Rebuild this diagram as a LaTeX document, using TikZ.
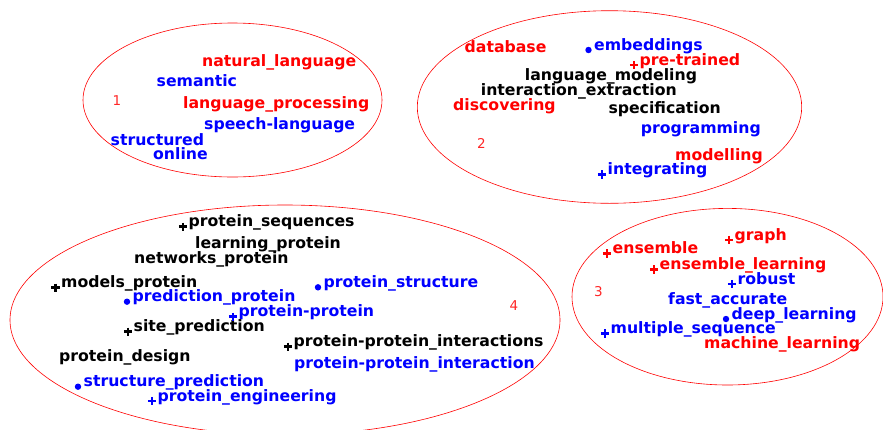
\documentclass[tikz,border=0pt]{standalone}
\usepackage{fontspec}
\setmainfont{DejaVu Sans}
\definecolor{termred}{rgb}{1,0,0}
\definecolor{termblue}{rgb}{0,0,1}

\begin{document}
\begin{tikzpicture}[x=1pt,y=-1pt,
  term/.style={anchor=base west, inner sep=0pt, font=\fontsize{15.7}{18}\selectfont\bfseries},
  cluster/.style={draw=termred, line width=0.6pt},
  clusterno/.style={inner sep=0pt, text=termred!85, font=\fontsize{13.5}{16}\selectfont},
  plusmk/.pic={\draw[line width=2.6pt] (-4.2,0) -- (4.2,0) (0,-4.2) -- (0,4.2);},
  dotmk/.pic={\fill (0,0) circle (3.2);}
]
\useasboundingbox (0,0) rectangle (883,429);
\clip (0,0) rectangle (883,429);

% Cluster outlines
  \draw[cluster] (232.5,100) ellipse (149.5 and 77);
  \draw[cluster] (609.5,107) ellipse (192.2 and 96.3);
  \draw[cluster] (727.5,296.7) ellipse (155.5 and 88.3);
  \draw[cluster] (285,320) ellipse (275 and 115);

  \node[clusterno] (no1) at (117,101) {1};
  \node[clusterno] (no2) at (481.5,143.3) {2};
  \node[clusterno] (no3) at (598.5,291.7) {3};
  \node[clusterno] (no4) at (514,306) {4};

% Cluster 1
  \node[term, termred] (natlang) at (202,66.5) {natural\_language};
  \node[term, termblue] (semantic) at (156.5,86) {semantic};
  \node[term, termred] (langproc) at (183,108.3) {language\_processing};
  \node[term, termblue] (speechlang) at (204,129.3) {speech-language};
  \node[term, termblue] (structured) at (110.5,145) {structured};
  \node[term, termblue] (online) at (153,159) {online};

% Cluster 2
  \node[term, termred] (database) at (464.5,52.7) {database};
  \node[term, termblue] (embeddings) at (594,50) {embeddings};
  \node[term, termred] (pretrained) at (639.5,65) {pre-trained};
  \node[term] (langmodel) at (524.7,80.7) {language\_modeling};
  \node[term] (interext) at (480.7,95) {interaction\_extraction};
  \node[term, termred] (discovering) at (453,110) {discovering};
  \node[term] (specification) at (608.3,113.3) {specification};
  \node[term, termblue] (programming) at (640.7,133.3) {programming};
  \node[term, termred] (modelling) at (675,160) {modelling};
  \node[term, termblue] (integrating) at (607.5,174.3) {integrating};

  \pic[termblue] at ([xshift=-5.5pt]embeddings.base west) {dotmk};
  \pic[termred] at ([xshift=-5.5pt]pretrained.base west) {plusmk};
  \pic[termblue] at ([xshift=-5.5pt]integrating.base west) {plusmk};

% Cluster 4
  \node[term] (protseq) at (188.5,226.7) {protein\_sequences};
  \node[term] (learnprot) at (195,248.3) {learning\_protein};
  \node[term] (netprot) at (134,263.3) {networks\_protein};
  \node[term] (modelsprot) at (61,287.7) {models\_protein};
  \node[term, termblue] (predprot) at (132.5,301.7) {prediction\_protein};
  \node[term, termblue] (protstruct) at (323.5,287.3) {protein\_structure};
  \node[term, termblue] (protprot) at (238.5,316.7) {protein-protein};
  \node[term] (sitepred) at (133.5,331.7) {site\_prediction};
  \node[term] (ppints) at (293.5,346.7) {protein-protein\_interactions};
  \node[term] (protdesign) at (59,361.7) {protein\_design};
  \node[term, termblue] (ppint) at (294,368.3) {protein-protein\_interaction};
  \node[term, termblue] (structpred) at (83.5,386.7) {structure\_prediction};
  \node[term, termblue] (proteng) at (157.5,401) {protein\_engineering};

  \pic at ([xshift=-5.5pt]protseq.base west) {plusmk};
  \pic at ([xshift=-5.5pt]modelsprot.base west) {plusmk};
  \pic[termblue] at ([xshift=-5.5pt]predprot.base west) {dotmk};
  \pic[termblue] at ([xshift=-5.5pt]protstruct.base west) {dotmk};
  \pic[termblue] at ([xshift=-5.5pt]protprot.base west) {plusmk};
  \pic at ([xshift=-5.5pt]sitepred.base west) {plusmk};
  \pic at ([xshift=-5.5pt]ppints.base west) {plusmk};
  \pic[termblue] at ([xshift=-5.5pt]structpred.base west) {dotmk};
  \pic[termblue] at ([xshift=-5.5pt]proteng.base west) {plusmk};

% Cluster 3
  \node[term, termred] (graph) at (734.5,240) {graph};
  \node[term, termred] (ensemble) at (612.5,253.3) {ensemble};
  \node[term, termred] (enslearn) at (659.5,269.3) {ensemble\_learning};
  \node[term, termblue] (robust) at (737.5,284) {robust};
  \node[term, termblue] (fastacc) at (668,304) {fast\_accurate};
  \node[term, termblue] (deeplearn) at (731.5,319) {deep\_learning};
  \node[term, termblue] (multseq) at (610.5,333.3) {multiple\_sequence};
  \node[term, termred] (machlearn) at (704,348.3) {machine\_learning};

  \pic[termred] at ([xshift=-5.5pt]graph.base west) {plusmk};
  \pic[termred] at ([xshift=-5.5pt]ensemble.base west) {plusmk};
  \pic[termred] at ([xshift=-5.5pt]enslearn.base west) {plusmk};
  \pic[termblue] at ([xshift=-5.5pt]robust.base west) {plusmk};
  \pic[termblue] at ([xshift=-5.5pt]deeplearn.base west) {dotmk};
  \pic[termblue] at ([xshift=-5.5pt]multseq.base west) {plusmk};

\end{tikzpicture}
\end{document}
